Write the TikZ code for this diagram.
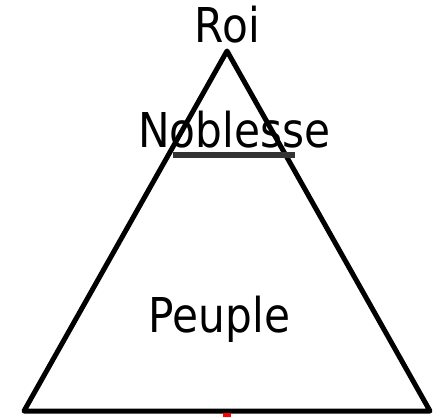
\documentclass[tikz,border=0pt]{standalone}
\usepackage{fontspec}
\newfontfamily\comicf[FakeStretch=0.88]{DejaVu Sans}
\begin{document}
\begin{tikzpicture}[x=1pt,y=-1pt,
  lbl/.style={inner sep=0pt, anchor=base, font=\comicf\fontsize{48}{50}\selectfont},
  edge/.style={line width=5pt, line join=round, line cap=round}]
\useasboundingbox (0,0) rectangle (441,417);
\coordinate (apex) at (227,51);
\coordinate (bl) at (24,411);
\coordinate (br) at (430,411);
\draw[edge] (apex) -- (br) -- (bl) -- cycle;
\node[lbl] (roi) at (227.5,43) {Roi};
\node[lbl] (nob) at (234,147) {Noblesse};
\node[lbl] (peu) at (219.5,332) {Peuple};
\coordinate (ul1) at (173,155);
\coordinate (ul2) at (295,155);
\draw[line width=6pt, draw={rgb,255:red,51;green,51;blue,51}] (ul1) -- (ul2);
\fill[red] (223,413) rectangle (231,416.7);
\end{tikzpicture}
\end{document}
